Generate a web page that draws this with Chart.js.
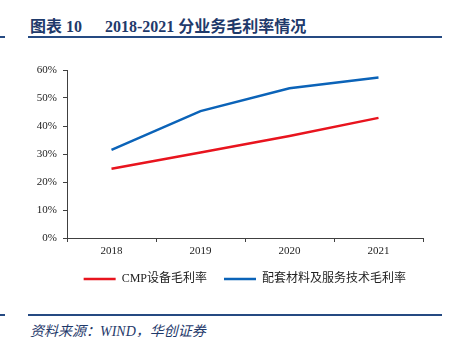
<!DOCTYPE html>
<html>
<head>
<meta charset="utf-8">
<script src="https://cdn.jsdelivr.net/npm/chart.js@4.4.0/dist/chart.umd.min.js"></script>
<style>
  body { margin: 0; width: 454px; height: 337px; background: #fff; position: relative; overflow: hidden; }
  .titre { position: absolute; top: 13px; font-family: "Liberation Serif", "Noto Sans CJK SC", serif; font-weight: bold; font-size: 16px; color: #1f3a6b; white-space: pre; }
  .trait { position: absolute; height: 2px; background: #254a82; }
  .source { position: absolute; left: 30px; top: 320px; font-family: "Liberation Serif", "Noto Sans CJK SC", serif; font-style: italic; font-size: 14px; color: #1f3a6b; }
  #wrap { position: absolute; left: 0; top: 45px; width: 454px; height: 255px; }
</style>
</head>
<body>
<div class="titre" style="left:30px;">图表 10</div>
<div class="titre" style="left:105px;">2018-2021 分业务毛利率情况</div>
<div class="trait" style="left:28px; top:36px; width:414px;"></div>
<div class="trait" style="left:0; top:36px; width:5px;"></div>
<div class="trait" style="left:28px; top:314px; width:414px;"></div>
<div class="trait" style="left:0; top:314px; width:5px;"></div>
<div class="source">资料来源：WIND，华创证券</div>
<div id="wrap"><canvas id="canvas"></canvas></div>
<script>
// Années et taux de marge brute (%)
const annees = ['2018', '2019', '2020', '2021'];
const margeCMP = [24.7, 30.5, 36.4, 42.9];
const margeMateriaux = [31.5, 45.3, 53.5, 57.3];

const police = "'Liberation Serif', 'Noto Sans CJK SC', serif";
const gris = '#404040';

const ctx = document.getElementById('canvas');
new Chart(ctx, {
  type: 'line',
  data: {
    labels: annees,
    datasets: [
      {
        label: 'CMP设备毛利率',
        data: margeCMP,
        borderColor: '#e8141e',
        backgroundColor: '#e8141e',
        borderWidth: 2.5,
        pointRadius: 0,
        pointStyle: 'line',
        tension: 0,
      },
      {
        label: '配套材料及服务技术毛利率',
        data: margeMateriaux,
        borderColor: '#0b63b8',
        backgroundColor: '#0b63b8',
        borderWidth: 2.5,
        pointRadius: 0,
        pointStyle: 'line',
        tension: 0,
      },
    ],
  },
  options: {
    responsive: true,
    maintainAspectRatio: false,
    animation: false,
    layout: { padding: { top: 25, right: 31, bottom: 5, left: 0 } },
    plugins: {
      tooltip: { enabled: false },
      legend: {
        position: 'bottom',
        align: 'end',
        labels: {
          usePointStyle: true,
          pointStyleWidth: 32,
          color: '#222',
          padding: 17,
          font: { family: police, size: 12 },
        },
      },
    },
    scales: {
      x: {
        offset: true,
        // hauteur fixe de l'axe pour caler la légende
        afterFit: (s) => { s.height = 18; },
        border: { color: gris, width: 1 },
        grid: { display: true, offset: true, drawOnChartArea: false, tickLength: 4, color: gris },
        ticks: { color: '#222', padding: 3, font: { family: police, size: 11 } },
      },
      y: {
        min: 0,
        max: 60,
        afterFit: (s) => { s.width = 67; },
        border: { color: gris, width: 1 },
        grid: { display: true, drawOnChartArea: false, tickLength: 4, color: gris },
        ticks: {
          stepSize: 10,
          color: '#222',
          padding: 6,
          font: { family: police, size: 11 },
          callback: (v) => v + '%',
        },
      },
    },
  },
});
</script>
</body>
</html>
